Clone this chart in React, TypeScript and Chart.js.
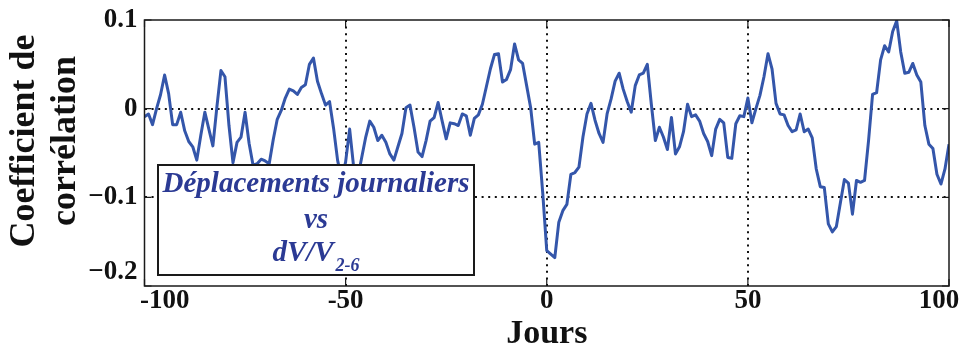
import React, { useEffect, useRef } from 'react';
import { Chart, registerables } from 'chart.js';

Chart.register(...registerables);

// Day lags (categories)
const DAYS: number[] = Array.from({ length: 201 }, (_, i) => i - 100);

// Correlation coefficient, days -100 .. -1
const CORR_BEFORE: number[] = [
  -0.009, -0.006, -0.018, 0.000, 0.016, 0.038, 0.017, -0.018, -0.018, -0.004,
  -0.025, -0.037, -0.043, -0.058, -0.030, -0.004, -0.023, -0.042, 0.002, 0.043,
  0.036, -0.019, -0.061, -0.038, -0.032, -0.004, -0.039, -0.064, -0.062, -0.057,
  -0.059, -0.062, -0.035, -0.012, -0.002, 0.012, 0.022, 0.020, 0.016, 0.024,
  0.027, 0.050, 0.057, 0.031, 0.017, 0.004, 0.008, -0.022, -0.058, -0.080,
  -0.060, -0.023, -0.066, -0.078, -0.055, -0.032, -0.014, -0.021, -0.036, -0.030,
  -0.038, -0.051, -0.058, -0.043, -0.028, 0.001, 0.004, -0.021, -0.049, -0.054,
  -0.036, -0.014, -0.010, 0.007, -0.014, -0.034, -0.016, -0.017, -0.019, -0.006,
  -0.008, -0.030, -0.011, -0.007, 0.005, 0.025, 0.045, 0.061, 0.062, 0.030,
  0.033, 0.044, 0.073, 0.055, 0.051, 0.026, 0.001, -0.040, -0.038, -0.095,
];

// Correlation coefficient, days 0 .. 100
const CORR_AFTER: number[] = [
  -0.160, -0.164, -0.168, -0.128, -0.115, -0.108, -0.074, -0.072, -0.066, -0.032,
  -0.006, 0.006, -0.013, -0.028, -0.038, -0.006, 0.011, 0.031, 0.040, 0.022,
  0.008, -0.004, 0.026, 0.038, 0.040, 0.050, 0.005, -0.036, -0.021, -0.032,
  -0.046, -0.010, -0.051, -0.043, -0.026, 0.005, -0.009, -0.007, -0.014, -0.028,
  -0.037, -0.053, -0.023, -0.012, -0.016, -0.055, -0.056, -0.017, -0.008, -0.009,
  0.012, -0.016, 0.000, 0.015, 0.036, 0.062, 0.045, 0.006, -0.006, -0.007,
  -0.019, -0.026, -0.024, -0.006, -0.026, -0.023, -0.033, -0.068, -0.088, -0.089,
  -0.130, -0.139, -0.133, -0.106, -0.080, -0.084, -0.119, -0.081, -0.083, -0.081,
  -0.036, 0.016, 0.018, 0.055, 0.071, 0.064, 0.087, 0.099, 0.064, 0.040,
  0.041, 0.051, 0.038, 0.030, -0.019, -0.040, -0.045, -0.074, -0.085, -0.068,
  -0.040,
];

const X_TICKS: number[] = [-100, -50, 0, 50, 100];
const X_TICK_LABELS: string[] = ['-100', '-50', '0', '50', '100'];
const Y_TICKS: number[] = [-0.2, -0.1, 0, 0.1];
const Y_TICK_LABELS: string[] = ['\u22120.2', '\u22120.1', '0', '0.1'];

const X_TITLE = 'Jours';
const Y_TITLE: string[] = ['Coefficient de', 'corrélation'];
const LEGEND_LINES: string[] = ['Déplacements journaliers', 'vs'];
const LEGEND_MAIN = 'dV/V';
const LEGEND_SUB = '2-6';

const SERIF = '"Liberation Serif", "Times New Roman", serif';
const LINE_COLOR = '#3456aa';
const TEXT_BLUE = '#2b3a94';
const FRAME = '#1a1a1a';

export default function App() {
  const ref = useRef<HTMLCanvasElement>(null);

  useEffect(() => {
    const canvas = ref.current;
    if (!canvas) return;
    const values = [...CORR_BEFORE, ...CORR_AFTER];
    const points = DAYS.map((d, i) => ({ x: d, y: values[i] }));

    const near = (a: number, b: number) => Math.abs(a - b) < 1e-9;

    const overlay = {
      id: 'overlay',
      afterDatasetsDraw(chart: any) {
        const { ctx, chartArea: a } = chart;
        // legend box
        const bx = a.left + 13.5;
        const by = a.top + 145;
        const bw = 316;
        const bh = 110;
        ctx.save();
        ctx.fillStyle = '#ffffff';
        ctx.fillRect(bx, by, bw, bh);
        ctx.strokeStyle = FRAME;
        ctx.lineWidth = 2;
        ctx.strokeRect(bx, by, bw, bh);
        const cx = bx + bw / 2;
        ctx.fillStyle = TEXT_BLUE;
        ctx.textBaseline = 'alphabetic';
        ctx.textAlign = 'center';
        ctx.font = `italic bold 29px ${SERIF}`;
        ctx.fillText(LEGEND_LINES[0], cx, by + 27);
        ctx.fillText(LEGEND_LINES[1], cx, by + 63);
        const w1 = ctx.measureText(LEGEND_MAIN).width;
        ctx.font = `italic bold 18px ${SERIF}`;
        const w2 = ctx.measureText(LEGEND_SUB).width;
        const sx = cx - (w1 + w2 + 2) / 2;
        ctx.textAlign = 'left';
        ctx.font = `italic bold 29px ${SERIF}`;
        ctx.fillText(LEGEND_MAIN, sx, by + 96);
        ctx.font = `italic bold 18px ${SERIF}`;
        ctx.fillText(LEGEND_SUB, sx + w1 + 2, by + 106);
        ctx.restore();
      },
      afterDraw(chart: any) {
        const { ctx, chartArea: a, scales } = chart;
        ctx.save();
        // frame
        ctx.strokeStyle = FRAME;
        ctx.lineWidth = 1.5;
        ctx.strokeRect(a.left, a.top, a.right - a.left, a.bottom - a.top);
        // inward ticks
        ctx.lineWidth = 1.2;
        const tl = 7;
        X_TICKS.forEach((v) => {
          const x = scales.x.getPixelForValue(v);
          ctx.beginPath();
          ctx.moveTo(x, a.bottom);
          ctx.lineTo(x, a.bottom - tl);
          ctx.moveTo(x, a.top);
          ctx.lineTo(x, a.top + tl);
          ctx.stroke();
        });
        Y_TICKS.forEach((v) => {
          const y = scales.y.getPixelForValue(v);
          ctx.beginPath();
          ctx.moveTo(a.left, y);
          ctx.lineTo(a.left + tl, y);
          ctx.moveTo(a.right, y);
          ctx.lineTo(a.right - tl, y);
          ctx.stroke();
        });
        // y title (two lines, rotated)
        ctx.fillStyle = '#111';
        ctx.font = `bold 36px ${SERIF}`;
        ctx.textAlign = 'center';
        ctx.textBaseline = 'middle';
        ctx.translate(25, 141);
        ctx.rotate(-Math.PI / 2);
        ctx.fillText(Y_TITLE[0], 0, 0);
        ctx.fillText(Y_TITLE[1], 0, 41);
        ctx.restore();
      },
    };

    const chart = new Chart(canvas, {
      type: 'line',
      data: {
        datasets: [
          {
            data: points,
            borderColor: LINE_COLOR,
            borderWidth: 3,
            pointRadius: 0,
            tension: 0,
            fill: false,
            borderJoinStyle: 'round',
          } as any,
        ],
      },
      options: {
        animation: false,
        responsive: false,
        devicePixelRatio: 1,
        layout: { padding: { top: 20, right: 12, left: 0, bottom: 0 } },
        plugins: { legend: { display: false }, tooltip: { enabled: false } },
        scales: {
          x: {
            type: 'linear',
            min: -100,
            max: 100,
            afterBuildTicks: (s: any) => {
              s.ticks = X_TICKS.map((v) => ({ value: v }));
            },
            afterFit: (s: any) => {
              s.height = 66;
              s.paddingLeft = 0;
              s.paddingRight = 0;
            },
            border: { display: false, dash: [2, 4.6] },
            grid: {
              drawTicks: false,
              lineWidth: 2,
              color: (c: any) =>
                c.tick && Math.abs(c.tick.value) === 100 ? 'rgba(0,0,0,0)' : '#111',
            },
            ticks: {
              autoSkip: false,
              maxRotation: 0,
              padding: 2,
              color: '#111',
              font: { family: SERIF, size: 27, weight: 'bold', lineHeight: 1 },
              callback: (v: any) => {
                const i = X_TICKS.indexOf(Number(v));
                const lab = i >= 0 ? X_TICK_LABELS[i] : '';
                if (v === -100) return '      ' + lab;
                if (v === 100) return lab + '   ';
                return lab;
              },
            },
            title: {
              display: true,
              text: X_TITLE,
              color: '#111',
              font: { family: SERIF, size: 34, weight: 'bold', lineHeight: 1 },
              padding: { top: 0, bottom: 1 },
            },
          },
          y: {
            type: 'linear',
            min: -0.2,
            max: 0.1,
            afterBuildTicks: (s: any) => {
              s.ticks = Y_TICKS.map((v) => ({ value: v }));
            },
            afterFit: (s: any) => {
              s.width = 144.5;
              s.paddingTop = 0;
              s.paddingBottom = 0;
            },
            border: { display: false, dash: [2, 4.6] },
            grid: {
              drawTicks: false,
              lineWidth: 2,
              color: (c: any) =>
                c.tick && (near(c.tick.value, 0.1) || near(c.tick.value, -0.2))
                  ? 'rgba(0,0,0,0)'
                  : '#111',
            },
            ticks: {
              padding: 7,
              color: '#111',
              font: { family: SERIF, size: 27, weight: 'bold', lineHeight: 1 },
              callback: (v: any) => {
                const i = Y_TICKS.findIndex((t) => near(t, Number(v)));
                const lab = i >= 0 ? Y_TICK_LABELS[i] : '';
                if (i === 0) return [lab, ''];
                return lab;
              },
            },
          },
        },
      },
      plugins: [overlay],
    } as any);

    return () => {
      chart.destroy();
    };
  }, []);

  return (
    <div style={{ position: 'absolute', left: 0, top: 0, width: 961, height: 352, background: '#fff' }}>
      <canvas ref={ref} width={961} height={352} style={{ width: 961, height: 352, display: 'block' }} />
    </div>
  );
}
